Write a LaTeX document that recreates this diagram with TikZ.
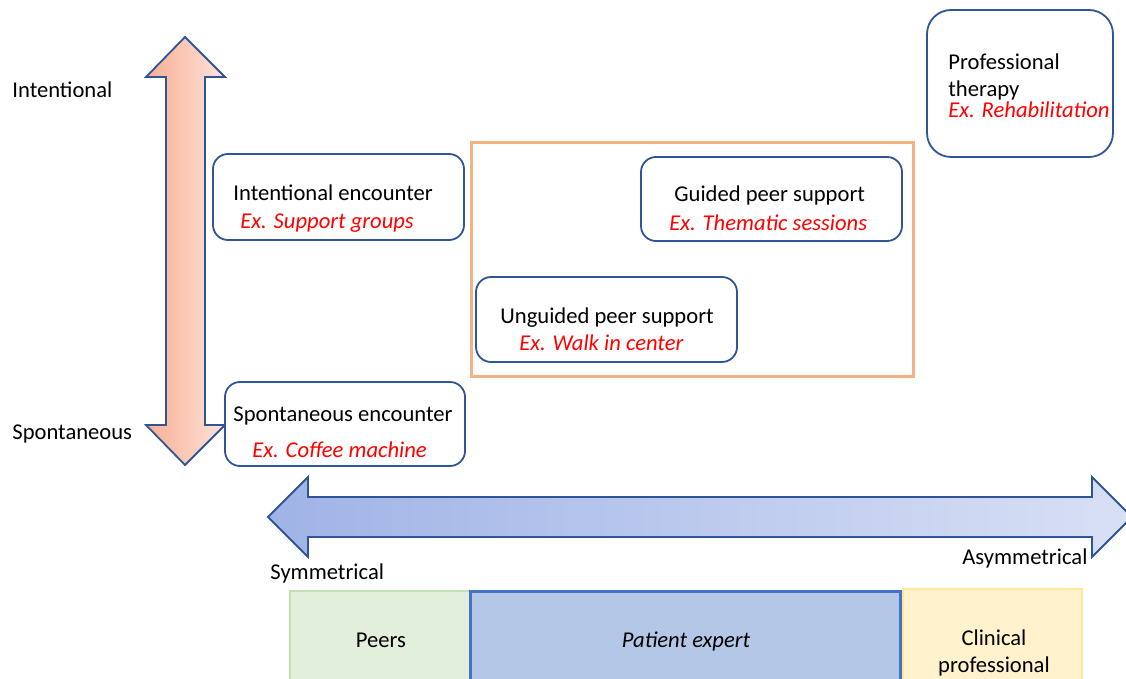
\documentclass[tikz,border=0pt]{standalone}
\usepackage{fontspec}
\setmainfont{Carlito}
\definecolor{boxblue}{HTML}{2F5597}
\definecolor{orng}{HTML}{F4B183}
\definecolor{peerfill}{HTML}{E2EFDA}
\definecolor{peerdraw}{HTML}{C5E0B4}
\definecolor{patfill}{HTML}{B4C7E7}
\definecolor{patdraw}{HTML}{4472C4}
\definecolor{clinfill}{HTML}{FFF2CC}
\definecolor{clindraw}{HTML}{FFE699}
\definecolor{salmonL}{HTML}{F8AE94}
\definecolor{salmonR}{HTML}{FDE4DA}
\definecolor{blueL}{HTML}{A0B3E6}
\definecolor{blueR}{HTML}{D8E0F5}
\begin{document}
\begin{tikzpicture}[x=0.5pt,y=-0.5pt,
  font=\fontsize{11.3}{13.5}\selectfont,
  box/.style={draw=boxblue, line width=0.9pt, rounded corners=7.5pt, fill=white, inner sep=0pt},
  lbl/.style={anchor=base west, inner sep=0pt},
  exlbl/.style={lbl, text=red, font=\fontsize{11.3}{13.5}\selectfont\itshape},
  ctr/.style={anchor=base, inner sep=0pt},
  bar/.style={inner sep=0pt, line width=1pt}]
\useasboundingbox (0,0) rectangle (1126,679);

% vertical double arrow
\path[draw=boxblue, line width=0.9pt, left color=salmonL, right color=salmonR]
  (185,37) -- (225,77) -- (205,77) -- (205,425) -- (225,425) -- (185,465)
  -- (146,425) -- (166,425) -- (166,77) -- (146,77) -- cycle;

% horizontal double arrow
\path[draw=boxblue, line width=0.9pt, left color=blueL, right color=blueR]
  (268,517) -- (308,477) -- (308,497) -- (1092,497) -- (1092,477) -- (1132,517)
  -- (1092,557) -- (1092,537) -- (308,537) -- (308,557) -- cycle;

% axis labels
\node[lbl] (intl) at (12,98) {Intentional};
\node[lbl] (spon) at (12,440) {Spontaneous};
\node[lbl] (sym) at (270,580) {Symmetrical};
\node[lbl] (asym) at (962,565) {Asymmetrical};

% orange frame
\node[draw=orng, line width=1.5pt, minimum width=221pt, minimum height=117pt, inner sep=0pt] (frame) at (692,260) {};

% boxes
\node[box, minimum width=125.5pt, minimum height=43pt] (ie) at (338.5,197) {};
\node[lbl] (ieT) at (233,201) {Intentional encounter};
\node[exlbl] (ieE) at (240,229) {Ex. Support groups};

\node[box, minimum width=130.5pt, minimum height=42pt] (gp) at (771.5,199) {};
\node[lbl] (gpT) at (674,202) {Guided peer support};
\node[exlbl] (gpE) at (669,231) {Ex. Thematic sessions};

\node[box, minimum width=130.5pt, minimum height=42.5pt] (up) at (606.5,319.5) {};
\node[lbl] (upT) at (500,324) {Unguided peer support};
\node[exlbl] (upE) at (519,351) {Ex. Walk in center};

\node[box, minimum width=120pt, minimum height=42pt] (se) at (345,424) {};
\node[lbl] (seT) at (233,422) {Spontaneous encounter};
\node[exlbl] (seE) at (252,458) {Ex. Coffee machine};

\node[box, rounded corners=12pt, minimum width=93pt, minimum height=73.5pt] (pt) at (1020,83.5) {};
\node[lbl] (ptT1) at (948,70) {Professional};
\node[lbl] (ptT2) at (948,97) {therapy};
\node[exlbl] (ptE) at (948,118) {Ex. Rehabilitation};

% bottom bars
\node[bar, draw=peerdraw, fill=peerfill, minimum width=90pt, minimum height=49.5pt] (peers) at (380,640.5) {};
\node[bar, draw=clindraw, fill=clinfill, minimum width=89.5pt, minimum height=50.5pt] (clin) at (992.5,639.5) {};
\node[bar, draw=patdraw, fill=patfill, line width=1.5pt, minimum width=215pt, minimum height=49.5pt] (pat) at (685,640.5) {};
\node[ctr] (peersT) at (381,647) {Peers};
\node[ctr] (patT) at (686,647) {\itshape Patient expert};
\node[ctr] (clinT1) at (994,646) {Clinical};
\node[ctr] (clinT2) at (994,672) {professional};
\end{tikzpicture}
\end{document}
